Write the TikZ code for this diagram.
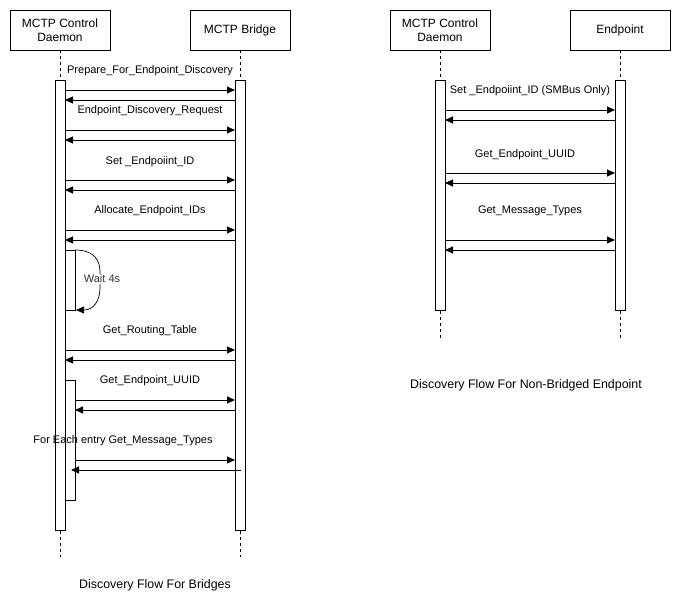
\documentclass[tikz,border=0pt]{standalone}
\usepackage{fontspec}
\setmainfont{Liberation Sans}
\usetikzlibrary{arrows.meta}

\begin{document}
\begin{tikzpicture}[x=1pt,y=-1pt,line width=0.9pt,>={Triangle[length=8pt,width=7pt]},
  party/.style={draw,minimum width=100pt,minimum height=40pt,align=center,
    font=\fontsize{12}{14}\selectfont},
  act/.style={draw,fill=white,minimum width=10pt,inner sep=0pt,anchor=north},
  msg/.style={font=\fontsize{11}{13}\selectfont},
  life/.style={line width=0.7pt,dash pattern=on 3pt off 3pt},
  caption/.style={font=\fontsize{12.4}{14}\selectfont}]
\useasboundingbox (0,0) rectangle (681,611);

% bridged flow
\node[party] (ldmn) at (60,30)  {MCTP Control\\Daemon};
\node[party] (brdg) at (240,30) {MCTP Bridge};
\node[act,minimum height=450pt] (ldmnact) at (60,80)  {};
\node[act,minimum height=450pt] (brdgact) at (240,80) {};
\coordinate (ldmnend) at (60,557);
\coordinate (brdgend) at (240,557);
\draw[life] (ldmn) -- (ldmnact);
\draw[life] (brdg) -- (brdgact);
\draw[life] (ldmnact) -- (ldmnend);
\draw[life] (brdgact) -- (brdgend);

\node[act,minimum height=60pt]  (waitact) at (70,250) {};
\node[act,minimum height=120pt] (loopact) at (70,380) {};

\coordinate (d1) at (65,90);   \coordinate (b1) at (235,90);
\coordinate (d2) at (65,100);  \coordinate (b2) at (235,100);
\coordinate (d3) at (65,130);  \coordinate (b3) at (235,130);
\coordinate (d4) at (65,140);  \coordinate (b4) at (235,140);
\coordinate (d5) at (65,180);  \coordinate (b5) at (235,180);
\coordinate (d6) at (65,190);  \coordinate (b6) at (235,190);
\coordinate (d7) at (65,230);  \coordinate (b7) at (235,230);
\coordinate (d8) at (65,240);  \coordinate (b8) at (235,240);
\coordinate (d9) at (65,350);  \coordinate (b9) at (235,350);
\coordinate (d10) at (65,360); \coordinate (b10) at (235,360);
\coordinate (d11) at (75,400); \coordinate (b11) at (235,400);
\coordinate (d12) at (75,410); \coordinate (b12) at (235,410);
\coordinate (d13) at (75,460); \coordinate (b13) at (235,460);
\coordinate (d14) at (71,470); \coordinate (b14) at (241,470);
\coordinate (w1) at (75,250);
\coordinate (w2) at (76,310);

\path[->] (d1) edge (b1);
\path[->] (b2) edge (d2);
\path[->] (d3) edge (b3);
\path[->] (b4) edge (d4);
\path[->] (d5) edge (b5);
\path[->] (b6) edge (d6);
\path[->] (d7) edge (b7);
\path[->] (b8) edge (d8);
\path[->] (d9) edge (b9);
\path[->] (b10) edge (d10);
\path[->] (d11) edge (b11);
\path[->] (b12) edge (d12);
\path[->] (d13) edge (b13);
\path[->] (b14) edge (d14);

\draw[->,line width=0.7pt] (w1) .. controls (94,250) and (100,260) .. (100,272)
  -- (100,288) .. controls (100,300) and (94,310) .. (w2);
\node[msg,fill=white,inner sep=1pt,text=black!80] (wait) at (102,279) {Wait 4s};

\node[msg] (prep)  at (150,71)  {Prepare\_For\_Endpoint\_Discovery};
\node[msg] (disc)  at (150,111) {Endpoint\_Discovery\_Request};
\node[msg] (seid)  at (150,162) {Set \_Endpoiint\_ID};
\node[msg] (alloc) at (150,211) {Allocate\_Endpoint\_IDs};
\node[msg] (route) at (150,331) {Get\_Routing\_Table};
\node[msg] (uuid)  at (150,381) {Get\_Endpoint\_UUID};
\node[msg] (types) at (123,441) {For Each entry Get\_Message\_Types};

\node[caption] (capl) at (155,585) {Discovery Flow For Bridges};

% non-bridged flow
\node[party] (rdmn) at (440,30) {MCTP Control\\Daemon};
\node[party] (endp) at (620,30) {Endpoint};
\node[act,minimum height=230pt] (rdmnact) at (440,80) {};
\node[act,minimum height=230pt] (endpact) at (620,80) {};
\coordinate (rdmnend) at (440,340);
\coordinate (endpend) at (620,340);
\draw[life] (rdmn) -- (rdmnact);
\draw[life] (endp) -- (endpact);
\draw[life] (rdmnact) -- (rdmnend);
\draw[life] (endpact) -- (endpend);

\coordinate (r1) at (445,110); \coordinate (e1) at (615,110);
\coordinate (r2) at (445,120); \coordinate (e2) at (615,120);
\coordinate (r3) at (445,173); \coordinate (e3) at (615,173);
\coordinate (r4) at (445,183); \coordinate (e4) at (615,183);
\coordinate (r5) at (445,240); \coordinate (e5) at (615,240);
\coordinate (r6) at (445,250); \coordinate (e6) at (615,250);

\path[->] (r1) edge (e1);
\path[->] (e2) edge (r2);
\path[->] (r3) edge (e3);
\path[->] (e4) edge (r4);
\path[->] (r5) edge (e5);
\path[->] (e6) edge (r6);

\node[msg] (rseid)  at (530,91)  {Set \_Endpoiint\_ID (SMBus Only)};
\node[msg] (ruuid)  at (525,155) {Get\_Endpoint\_UUID};
\node[msg] (rtypes) at (530,211) {Get\_Message\_Types};

\node[caption] (capr) at (526,385) {Discovery Flow For Non-Bridged Endpoint};
\end{tikzpicture}
\end{document}
